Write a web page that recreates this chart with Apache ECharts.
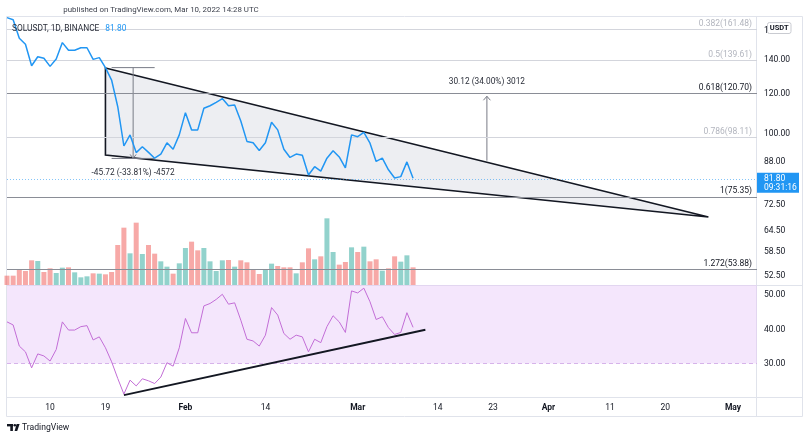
<!DOCTYPE html>
<html><head><meta charset="utf-8">
<script src="https://cdn.jsdelivr.net/npm/echarts@6/dist/echarts.min.js"></script>
<style>html,body{margin:0;padding:0;background:#fff}#c{width:808px;height:440px}</style>
</head><body><div id="c"></div>
<script>
// ---------- data ----------
const dates = ['2022-01-03','2022-01-04','2022-01-05','2022-01-06','2022-01-07','2022-01-08','2022-01-09','2022-01-10','2022-01-11','2022-01-12','2022-01-13','2022-01-14','2022-01-15','2022-01-16','2022-01-17','2022-01-18','2022-01-19','2022-01-20','2022-01-21','2022-01-22','2022-01-23','2022-01-24','2022-01-25','2022-01-26','2022-01-27','2022-01-28','2022-01-29','2022-01-30','2022-01-31','2022-02-01','2022-02-02','2022-02-03','2022-02-04','2022-02-05','2022-02-06','2022-02-07','2022-02-08','2022-02-09','2022-02-10','2022-02-11','2022-02-12','2022-02-13','2022-02-14','2022-02-15','2022-02-16','2022-02-17','2022-02-18','2022-02-19','2022-02-20','2022-02-21','2022-02-22','2022-02-23','2022-02-24','2022-02-25','2022-02-26','2022-02-27','2022-02-28','2022-03-01','2022-03-02','2022-03-03','2022-03-04','2022-03-05','2022-03-06','2022-03-07','2022-03-08','2022-03-09','2022-03-10'];
const closes = [169.7,168.1,154.5,150.4,136.4,142.1,141.1,136.0,140.6,151.5,146.3,146.3,148.0,148.0,140.4,141.5,135.2,127.8,113.2,94.7,99.6,91.9,94.4,92.0,89.6,91.3,96.1,93.3,99.6,110.2,101.9,101.9,112.4,113.7,115.5,117.5,113.7,114.1,106.1,96.7,96.1,92.8,96.1,105.5,101.9,93.3,89.9,91.3,90.8,83.0,86.2,84.5,89.6,92.7,90.1,85.7,99.6,98.8,100.7,95.9,88.3,89.6,85.0,81.9,82.4,88.1,81.8];
const volumes = [2.8,2.8,4.5,4.2,7.4,7.2,3.9,5.0,3.6,5.2,5.3,3.8,2.3,2.6,3.5,3.4,3.2,3.9,12.0,17.2,9.5,18.7,9.3,12.0,9.4,7.1,5.5,3.4,6.5,11.1,13.0,10.4,11.1,7.1,4.2,7.4,7.5,5.5,7.4,6.8,4.8,3.3,4.7,6.4,5.7,5.3,5.3,3.5,6.8,11.0,7.7,8.6,20.0,9.9,6.1,6.9,11.3,9.9,11.5,7.1,7.7,4.3,5.0,8.6,7.0,8.9,5.3];
const volumeUp = [0,0,0,0,0,1,0,0,1,1,0,1,1,1,0,1,0,0,0,0,1,0,1,0,0,1,1,0,1,1,0,0,1,1,1,1,0,1,0,0,0,0,1,1,0,0,0,1,0,0,1,0,1,1,0,0,1,0,1,0,0,1,0,0,1,1,0];
const rsi = [42.2,41.3,35.1,33.4,28.7,32.8,32.2,30.7,34.1,42.2,39.8,39.8,40.8,41.1,36.9,37.8,34.6,30.5,25.6,21.0,25.1,23.4,25.5,24.9,24.1,26.0,30.2,29.2,34.6,43.2,39.0,39.0,46.9,47.6,48.8,50.3,47.4,47.8,42.7,37.1,36.6,35.1,38.3,46.4,44.2,38.8,37.1,38.3,37.8,33.4,37.1,36.1,40.8,44.0,42.2,39.1,51.3,50.7,52.1,48.1,42.9,43.7,40.5,38.5,39.1,44.9,40.6];
const lastPrice = 81.80;
const priceTicks = [160, 140, 120, 100, 88, 72.5, 64.5, 58.5, 52.5];
const rsiTicks = [30, 40, 50];
const xTickDates = ['2022-01-10','2022-01-19','2022-02-01','2022-02-14','2022-03-01','2022-03-14','2022-03-23','2022-04-01','2022-04-11','2022-04-20','2022-05-01'];
const xTickLabels = ['10','19','Feb','14','Mar','14','23','Apr','11','20','May'];
const fibRatios = [0.382, 0.5, 0.618, 0.786, 1, 1.272];
const fibPrices = [161.48, 139.61, 120.70, 98.11, 75.35, 53.88];
const fibStrong = [false, false, true, false, true, true];
// drawings
const wedgeDates = ['2022-01-19', '2022-04-27', '2022-01-19'];
const wedgePrices = [135.0, 68.6, 90.9];
const measure1Dates = ['2022-01-20', '2022-01-27'];
const measure1Prices = [135.22, 89.50];
const measure1Text = '-45.72 (-33.81%) -4572';
const measure2Date = '2022-03-22';
const measure2Prices = [88.59, 118.71];
const measure2Text = '30.12 (34.00%) 3012';
const rsiTrendDates = ['2022-01-22', '2022-03-12'];
const rsiTrendValues = [20.7, 39.9];

// ---------- helpers ----------
const L = Math.log;
const DAY0 = Date.UTC(2022, 0, 1);
const day = s => (Date.parse(s + 'T00:00:00Z') - DAY0) / 86400000;
const X_MIN = 2.0, X_MAX = 123.9;
const P_MIN = 50.35, P_MAX = 170.2;
const R_MIN = 20, R_MAX = 53.03;
const FONT = 'Roboto';
const xTickNums = xTickDates.map(day);

const chart = echarts.init(document.getElementById('c'), null, {renderer: 'canvas'});

const fibMarks = fibRatios.map((r, i) => ({
  yAxis: L(fibPrices[i]),
  lineStyle: {color: fibStrong[i] ? '#8a8d96' : '#d3d5dc', width: 1, type: 'solid'},
  label: {
    show: true, position: 'insideEndTop', distance: [5, 1],
    formatter: r + '(' + fibPrices[i].toFixed(2) + ')',
    color: fibStrong[i] ? '#131722' : '#b2b5be', fontSize: 8.5, fontFamily: FONT
  }
}));

const seg = (a, b, style) => ({type: 'line', shape: {x1: a[0], y1: a[1], x2: b[0], y2: b[1]}, style});
const mStyle = {stroke: '#787b86', lineWidth: 1};

const option = {
  animation: false,
  textStyle: {fontFamily: FONT},
  grid: [
    {left: 7, top: 17, width: 750, height: 268},
    {left: 7, top: 285, width: 750, height: 112.5}
  ],
  xAxis: [
    {type: 'value', gridIndex: 0, min: X_MIN, max: X_MAX, axisLine: {show: false}, axisTick: {show: false}, axisLabel: {show: false}, splitLine: {show: false}},
    {type: 'value', gridIndex: 1, min: X_MIN, max: X_MAX, axisLine: {show: false}, axisTick: {show: false}, splitLine: {show: false},
      axisLabel: {
        customValues: xTickNums, margin: 6, fontSize: 8.5, color: '#131722',
        formatter: v => {
          const i = xTickNums.findIndex(n => Math.abs(n - v) < 0.01);
          const t = i >= 0 ? xTickLabels[i] : '';
          return /^\d+$/.test(t) ? t : '{m|' + t + '}';
        },
        rich: {m: {fontWeight: 'bold', fontSize: 8.5, color: '#131722', fontFamily: FONT}}
      }}
  ],
  yAxis: [
    {type: 'value', gridIndex: 0, position: 'right', min: L(P_MIN), max: L(P_MAX),
      axisLine: {show: false}, axisTick: {show: false}, splitLine: {show: false},
      axisLabel: {customValues: priceTicks.map(L), formatter: v => Math.exp(v).toFixed(2), margin: 7, fontSize: 8.5, color: '#131722'}},
    {type: 'value', gridIndex: 0, min: 0, max: 80.4, show: false},
    {type: 'value', gridIndex: 1, position: 'right', min: R_MIN, max: R_MAX,
      axisLine: {show: false}, axisTick: {show: false}, splitLine: {show: false},
      axisLabel: {customValues: rsiTicks, formatter: v => v.toFixed(2), margin: 7, fontSize: 8.5, color: '#131722'}}
  ],
  series: [
    {
      name: 'Volume', type: 'bar', xAxisIndex: 0, yAxisIndex: 1, barWidth: 5, z: 1, silent: true,
      data: dates.map((d, i) => ({value: [day(d), volumes[i]], itemStyle: {color: volumeUp[i] ? 'rgba(38,166,154,0.5)' : 'rgba(239,83,80,0.5)'}}))
    },
    {
      name: 'Wedge', type: 'custom', xAxisIndex: 0, yAxisIndex: 0, z: 2, silent: true, clip: true,
      data: [[day(wedgeDates[0]), L(wedgePrices[0])]],
      renderItem: (params, api) => {
        const pts = wedgeDates.map((d, i) => api.coord([day(d), L(wedgePrices[i])]));
        return {type: 'polygon', shape: {points: pts}, style: {fill: 'rgba(206,209,218,0.36)', stroke: '#131722', lineWidth: 1.6, lineJoin: 'miter'}};
      }
    },
    {
      name: 'Measure1', type: 'custom', xAxisIndex: 0, yAxisIndex: 0, z: 3, silent: true,
      data: [[day(measure1Dates[0]), L(measure1Prices[0])]],
      renderItem: (params, api) => {
        const xa = day(measure1Dates[0]), xb = day(measure1Dates[1]), xm = (xa + xb) / 2;
        const t = L(measure1Prices[0]), b = L(measure1Prices[1]);
        const tl = api.coord([xa, t]), tr = api.coord([xb, t]);
        const bl = api.coord([xa, b]), br = api.coord([xb, b]);
        const mt = api.coord([xm, t]), mb = api.coord([xm, b]);
        return {type: 'group', children: [
          seg(tl, tr, mStyle), seg(bl, br, mStyle), seg(mt, mb, mStyle),
          {type: 'polyline', shape: {points: [[mb[0] - 3, mb[1] - 4], [mb[0], mb[1]], [mb[0] + 3, mb[1] - 4]]}, style: {stroke: '#787b86', lineWidth: 1, fill: null}},
          {type: 'text', style: {text: measure1Text, x: mb[0], y: mb[1] + 15, align: 'center', verticalAlign: 'middle', fill: '#2a2e39', fontSize: 8.3, fontFamily: FONT}}
        ]};
      }
    },
    {
      name: 'Measure2', type: 'custom', xAxisIndex: 0, yAxisIndex: 0, z: 3, silent: true,
      data: [[day(measure2Date), L(measure2Prices[0])]],
      renderItem: (params, api) => {
        const x = day(measure2Date);
        const b = api.coord([x, L(measure2Prices[0])]), t = api.coord([x, L(measure2Prices[1])]);
        return {type: 'group', children: [
          seg(b, t, mStyle),
          {type: 'polyline', shape: {points: [[t[0] - 3.5, t[1] + 4], [t[0], t[1]], [t[0] + 3.5, t[1] + 4]]}, style: {stroke: '#787b86', lineWidth: 1, fill: null}},
          {type: 'text', style: {text: measure2Text, x: t[0], y: t[1] - 14.5, align: 'center', verticalAlign: 'middle', fill: '#2a2e39', fontSize: 8.3, fontFamily: FONT}}
        ]};
      }
    },
    {
      name: 'SOLUSDT', type: 'line', xAxisIndex: 0, yAxisIndex: 0, z: 5, silent: true,
      showSymbol: false, symbol: 'none',
      lineStyle: {color: '#2196f3', width: 1.5},
      data: dates.map((d, i) => [day(d), L(closes[i])]),
      markLine: {
        silent: true, symbol: ['none', 'none'],
        data: fibMarks.concat([{yAxis: L(lastPrice), lineStyle: {color: 'rgba(33,150,243,0.55)', width: 1, type: [1, 2]}, label: {show: false}}])
      }
    },
    {
      name: 'RSI', type: 'line', xAxisIndex: 1, yAxisIndex: 2, z: 5, silent: true,
      showSymbol: false, symbol: 'none',
      lineStyle: {color: '#c26dd6', width: 1},
      data: dates.map((d, i) => [day(d), rsi[i]]),
      markArea: {silent: true, itemStyle: {color: 'rgba(228,196,248,0.42)'}, data: [[{yAxis: 30}, {yAxis: Math.min(70, R_MAX)}]]},
      markLine: {silent: true, symbol: ['none', 'none'], label: {show: false},
        lineStyle: {color: '#d6b3ea', width: 1, type: [4, 3]}, data: [{yAxis: 30}]}
    },
    {
      name: 'RSI trend', type: 'line', xAxisIndex: 1, yAxisIndex: 2, z: 6, silent: true,
      showSymbol: false, symbol: 'none',
      lineStyle: {color: '#131722', width: 2},
      data: rsiTrendDates.map((d, i) => [day(d), rsiTrendValues[i]])
    }
  ]
};
chart.setOption(option);

// decorations (frame, header, legend, badges, logo)
const py = chart.convertToPixel({yAxisIndex: 0}, L(lastPrice));
const frame = '#e0e3eb';
chart.setOption({graphic: [
  {type: 'rect', shape: {x: 6.5, y: 16.5, width: 796, height: 400}, style: {fill: null, stroke: frame, lineWidth: 1}, z: 0, silent: true},
  {type: 'line', shape: {x1: 756.5, y1: 16.5, x2: 756.5, y2: 416.5}, style: {stroke: frame, lineWidth: 1}, silent: true},
  {type: 'line', shape: {x1: 6.5, y1: 285.5, x2: 802.5, y2: 285.5}, style: {stroke: frame, lineWidth: 1}, silent: true},
  {type: 'line', shape: {x1: 6.5, y1: 397.5, x2: 802.5, y2: 397.5}, style: {stroke: frame, lineWidth: 1}, silent: true},
  {type: 'text', x: 161, y: 10, style: {text: 'published on TradingView.com, Mar 10, 2022 14:28 UTC', align: 'center', verticalAlign: 'middle', fill: '#3b3f4b', fontSize: 7.9, fontFamily: FONT}, silent: true},
  {type: 'text', x: 12, y: 28.5, z: 10, style: {
    text: '{a|SOLUSDT, 1D, BINANCE}  {b|' + lastPrice.toFixed(2) + '}', verticalAlign: 'middle', fontFamily: FONT,
    rich: {a: {fill: '#2a2e39', fontSize: 8.4, fontFamily: FONT}, b: {fill: '#2196f3', fontSize: 8.4, fontFamily: FONT}}
  }, silent: true},
  {type: 'rect', z: 20, shape: {x: 767.5, y: 22.5, width: 23.5, height: 11, r: 2}, style: {fill: '#fff', stroke: '#c9cbd1', lineWidth: 1}, silent: true},
  {type: 'text', z: 21, x: 779.2, y: 28.3, style: {text: 'USDT', align: 'center', verticalAlign: 'middle', fill: '#131722', fontSize: 7.5, fontWeight: 'bold', fontFamily: FONT}, silent: true},
  {type: 'rect', z: 20, shape: {x: 757, y: py - 5.5, width: 42, height: 20}, style: {fill: '#2196f3'}, silent: true},
  {type: 'text', z: 21, x: 764, y: py + 1, style: {text: lastPrice.toFixed(2), verticalAlign: 'middle', fill: '#fff', fontSize: 8.5, fontFamily: FONT}, silent: true},
  {type: 'text', z: 21, x: 764, y: py + 9.5, style: {text: '09:31:16', verticalAlign: 'middle', fill: '#fff', fontSize: 8.5, fontFamily: FONT}, silent: true},
  {type: 'rect', shape: {x: 7, y: 424, width: 6, height: 2.4}, style: {fill: '#131722'}, silent: true},
  {type: 'rect', shape: {x: 10.3, y: 424, width: 2.6, height: 7}, style: {fill: '#131722'}, silent: true},
  {type: 'circle', shape: {cx: 14.8, cy: 425.3, r: 1.3}, style: {fill: '#131722'}, silent: true},
  {type: 'polygon', shape: {points: [[16.6, 424], [19.6, 424], [17.2, 431], [14.6, 431]]}, style: {fill: '#131722'}, silent: true},
  {type: 'text', x: 22, y: 427.8, style: {text: 'TradingView', verticalAlign: 'middle', fill: '#131722', fontSize: 8.6, fontFamily: FONT}, silent: true}
]});
</script>
</body></html>
